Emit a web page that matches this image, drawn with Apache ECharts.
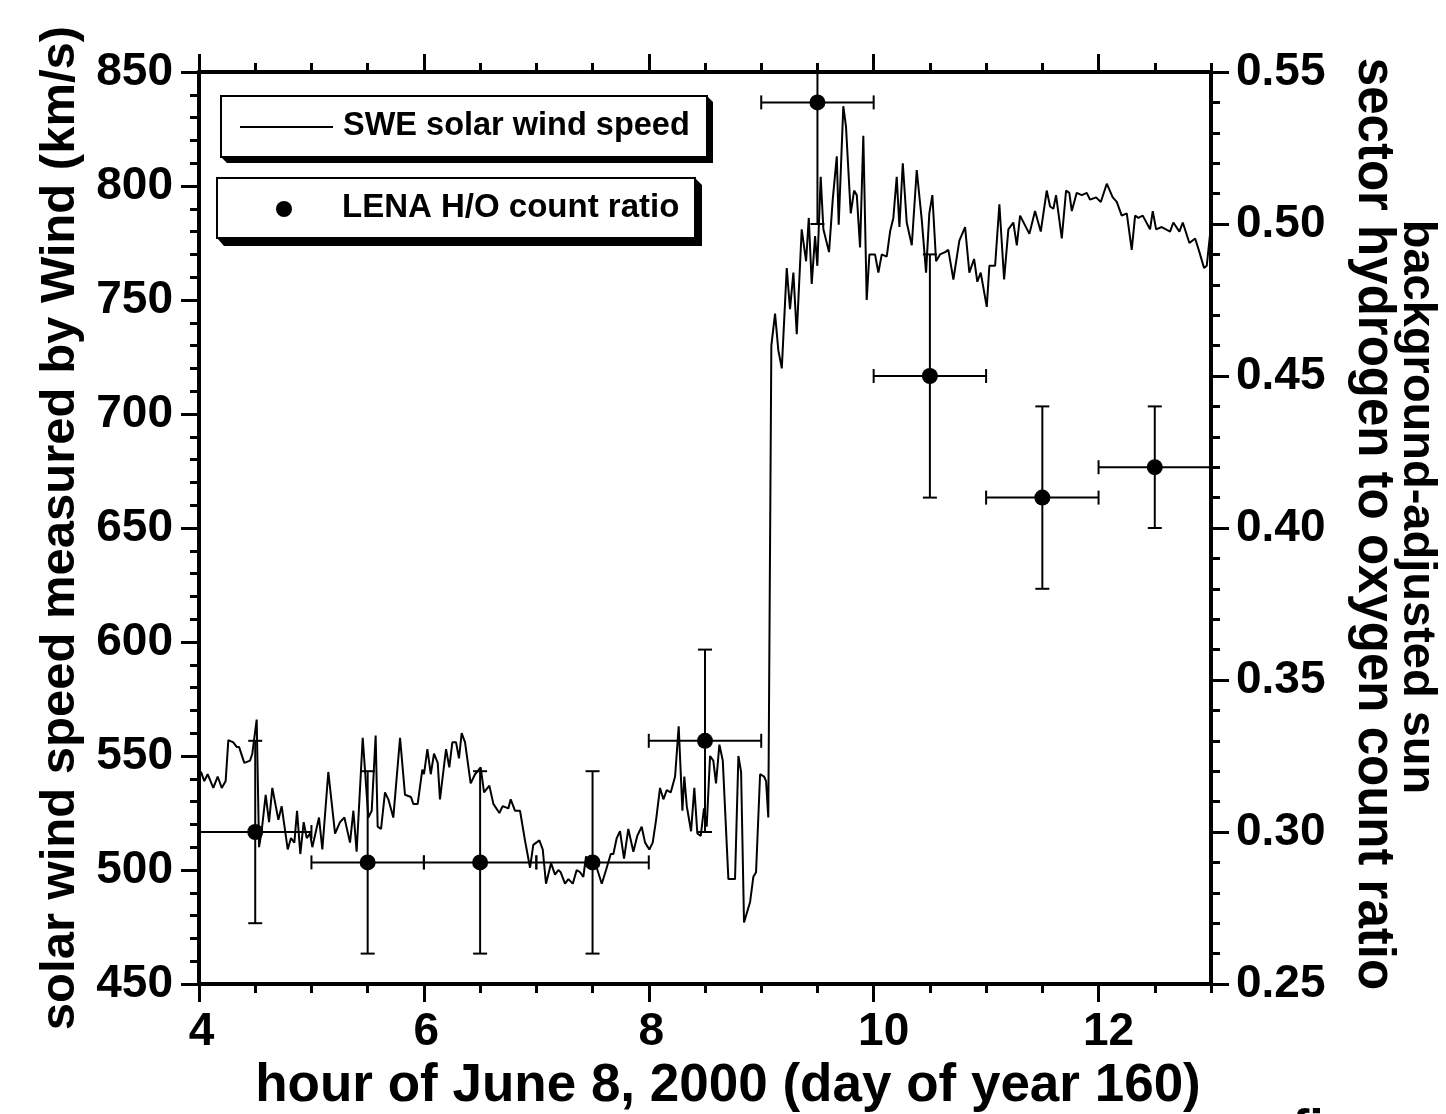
<!DOCTYPE html>
<html>
<head>
<meta charset="utf-8">
<script src="https://cdn.jsdelivr.net/npm/echarts@6/dist/echarts.min.js"></script>
<style>
html,body{margin:0;padding:0;background:#fff;}
#chart{width:1446px;height:1114px;}
</style>
</head>
<body>
<div id="chart"></div>
<script>
// ---- SWE solar wind speed (hour, km/s) ----
const sweHour = [
4.0,4.018,4.047,4.077,4.127,4.166,4.202,4.237,4.261,4.305,4.335,4.356,4.403,4.454,4.474,4.513,4.534,4.557,4.593,4.623,
4.652,4.706,4.735,4.789,4.818,4.848,4.872,4.901,4.931,4.958,4.987,5.008,5.067,5.097,5.150,5.210,5.254,5.293,5.343,5.373,
5.402,5.456,5.506,5.536,5.571,5.589,5.619,5.654,5.684,5.728,5.788,5.832,5.885,5.906,5.945,5.986,
6.001,6.031,6.061,6.090,6.123,6.143,6.197,6.226,6.253,6.286,6.312,6.336,6.366,6.416,6.455,6.505,6.535,6.582,6.618,6.671,
6.701,6.751,6.772,6.810,6.855,6.899,6.944,6.973,7.027,7.057,7.086,7.131,7.166,7.196,7.217,7.255,7.285,7.324,7.359,7.389,
7.418,7.442,7.471,7.507,7.537,7.582,7.620,7.662,7.685,7.715,7.744,7.780,7.818,7.863,7.898,7.937,7.967,8.005,
8.035,8.065,8.100,8.130,8.160,8.195,8.234,8.266,8.299,8.316,8.338,8.376,8.405,8.432,8.462,8.491,8.515,8.545,8.574,8.598,
8.628,8.658,8.708,8.738,8.767,8.797,8.821,8.847,8.901,8.930,8.954,8.990,9.025,9.043,9.063,9.090,
9.123,9.152,9.183,9.227,9.256,9.286,9.316,9.360,9.399,9.423,9.449,9.479,9.499,9.529,9.553,9.603,9.636,9.672,9.689,9.730,
9.754,9.796,9.826,9.850,9.879,9.908,9.938,9.962,10.012,10.042,10.072,10.116,10.146,10.175,10.205,10.229,10.259,10.294,10.339,10.383,
10.428,10.466,10.495,10.522,10.555,10.590,10.635,10.664,10.709,10.762,10.813,10.851,10.893,10.922,10.952,
11.006,11.029,11.080,11.118,11.160,11.198,11.242,11.273,11.302,11.385,11.435,11.486,11.539,11.569,11.598,11.622,11.673,11.711,11.740,11.762,
11.806,11.851,11.895,11.924,11.978,12.020,12.073,12.126,12.162,12.206,12.251,12.295,12.325,12.354,12.393,12.458,12.482,12.512,12.562,12.636,
12.665,12.719,12.749,12.808,12.859,12.897,12.938,12.962,12.992
];
const sweSpeed = [
541,543,539,542,536,541,536,539,557,556,554,554,547,548,551,566,510,517,533,521,
536,522,528,509,514,512,526,507,521,514,516,510,523,509,543,516,521,523,512,526,
508,558,523,526,559,519,518,534,531,523,558,533,532,529,529,544,
542,553,542,551,547,531,553,545,556,556,549,560,556,538,542,545,534,537,529,525,
528,527,531,526,526,513,501,511,513,509,494,503,498,500,499,494,496,494,500,499,
497,506,502,503,501,494,500,507,507,514,517,505,518,508,515,519,512,509,
512,522,536,531,535,534,541,563,526,541,528,517,536,516,515,527,519,550,548,538,
555,548,496,496,496,550,543,477,486,497,499,542,541,539,523,730,
744,728,720,764,746,762,735,781,767,786,757,778,765,804,781,771,794,813,783,835,
826,788,798,796,773,822,750,770,770,762,770,769,780,786,804,782,810,784,774,807,
785,762,788,796,767,770,771,772,759,776,782,762,768,758,762,
747,765,765,792,759,781,784,774,787,779,789,780,798,791,790,796,777,798,797,789,
797,796,797,794,795,793,801,795,793,787,788,772,787,786,787,781,789,781,782,780,
784,780,784,775,777,771,764,765,779
];

// ---- LENA H/O count ratio ----
const lenaHour = [4.5, 5.5, 6.5, 7.5, 8.5, 9.5, 10.5, 11.5, 12.5];
const lenaRatio = [0.30, 0.29, 0.29, 0.29, 0.33, 0.54, 0.45, 0.41, 0.42];
const lenaRatioErr = [0.03, 0.03, 0.03, 0.03, 0.03, 0.04, 0.04, 0.03, 0.02];
const lenaHourErr = [0.5, 0.5, 0.5, 0.5, 0.5, 0.5, 0.5, 0.5, 0.5];

// ---- tick values / labels ----
const hourMajorTicks = [4, 6, 8, 10, 12];
const hourMinorTicks = [4, 4.5, 5, 5.5, 6, 6.5, 7, 7.5, 8, 8.5, 9, 9.5, 10, 10.5, 11, 11.5, 12, 12.5, 13];

const legendLabels = ['SWE solar wind speed', 'LENA H/O count ratio'];
const xTitle = 'hour of June 8, 2000 (day of year 160)';
const yLeftTitle = 'solar wind speed measured by Wind (km/s)';
const yRightTitleLines = ['background-adjusted sun', 'sector hydrogen to oxygen count ratio'];
const captionText = 'figure 1';

const FONT = '"Liberation Sans", Arial, Helvetica, sans-serif';

const lineData = sweHour.map((h, i) => [h, sweSpeed[i]]);
const lenaData = lenaHour.map((h, i) => [
  h, lenaRatio[i],
  h - lenaHourErr[i], h + lenaHourErr[i],
  lenaRatio[i] - lenaRatioErr[i], lenaRatio[i] + lenaRatioErr[i]
]);

const chart = echarts.init(document.getElementById('chart'), null, {renderer: 'canvas'});

const grid = {left: 199, top: 72, width: 1012, height: 912, containLabel: false, outerBoundsMode: 'none'};
const axisLineStyle = {color: '#000', width: 4};
const labelFont = {fontSize: 46, fontWeight: 'bold', fontFamily: FONT, color: '#000'};

function hourAxis(position, long, withLabels) {
  return {
    type: 'value', min: 4, max: 13, interval: long ? 2 : 0.5,
    position: position,
    axisLine: {show: true, onZero: false, lineStyle: axisLineStyle},
    axisTick: {show: true, inside: false, length: long ? 18 : 9,
      customValues: long ? hourMajorTicks : hourMinorTicks,
      lineStyle: {color: '#000', width: 3}},
    axisLabel: withLabels ? Object.assign({
      show: true, customValues: hourMajorTicks, margin: 25,
      formatter: v => (String(v).length > 1 ? '{w|' + v + '}' : '{n|' + v + '}'),
      rich: {
        n: Object.assign({padding: [0, 0, 0, 5]}, labelFont),
        w: Object.assign({padding: [0, 0, 0, 20]}, labelFont)
      }
    }, labelFont) : {show: false},
    splitLine: {show: false}
  };
}

const xAxes = [
  hourAxis('bottom', false, true),
  hourAxis('bottom', true, false),
  hourAxis('top', false, false),
  hourAxis('top', true, false)
];
xAxes[0].name = xTitle;
xAxes[0].nameLocation = 'middle';
xAxes[0].nameGap = 76;
xAxes[0].nameTextStyle = {fontSize: 53, fontWeight: 'bold', fontFamily: FONT, color: '#000', padding: [0, 0, 0, 46]};

const option = {
  animation: false,
  backgroundColor: '#fff',
  grid: grid,
  xAxis: xAxes,
  yAxis: [
    {
      type: 'value', min: 450, max: 850, interval: 50, position: 'left',
      axisLine: {show: true, onZero: false, lineStyle: axisLineStyle},
      axisTick: {show: true, length: 18, lineStyle: {color: '#000', width: 3}},
      minorTick: {show: true, splitNumber: 5, length: 9, lineStyle: {color: '#000', width: 3}},
      axisLabel: Object.assign({margin: 26}, labelFont),
      splitLine: {show: false},
      name: yLeftTitle, nameLocation: 'middle', nameRotate: 90, nameGap: 114,
      nameTextStyle: {fontSize: 49, fontWeight: 'bold', fontFamily: FONT, color: '#000'}
    },
    {
      type: 'value', min: 0.25, max: 0.55, interval: 0.05, position: 'right',
      axisLine: {show: true, onZero: false, lineStyle: axisLineStyle},
      axisTick: {show: true, length: 18, lineStyle: {color: '#000', width: 3}},
      minorTick: {show: true, splitNumber: 5, length: 9, lineStyle: {color: '#000', width: 3}},
      axisLabel: Object.assign({margin: 25, formatter: v => v.toFixed(2)}, labelFont),
      splitLine: {show: false}
    }
  ],
  series: [
    {
      name: legendLabels[0], type: 'line', xAxisIndex: 0, yAxisIndex: 0,
      data: lineData, showSymbol: false, symbol: 'none',
      lineStyle: {color: '#000', width: 2}, z: 2
    },
    {
      name: legendLabels[1], type: 'custom', xAxisIndex: 0, yAxisIndex: 1,
      data: lenaData, clip: true, z: 3,
      renderItem: function (params, api) {
        const x = api.value(0), y = api.value(1);
        const c = api.coord([x, y]);
        const l = api.coord([api.value(2), y]);
        const r = api.coord([api.value(3), y]);
        const lo = api.coord([x, api.value(4)]);
        const hi = api.coord([x, api.value(5)]);
        const cap = 7;
        const st = {stroke: '#000', lineWidth: 2};
        return {
          type: 'group',
          children: [
            {type: 'line', shape: {x1: l[0], y1: l[1], x2: r[0], y2: r[1]}, style: st},
            {type: 'line', shape: {x1: l[0], y1: l[1] - cap, x2: l[0], y2: l[1] + cap}, style: st},
            {type: 'line', shape: {x1: r[0], y1: r[1] - cap, x2: r[0], y2: r[1] + cap}, style: st},
            {type: 'line', shape: {x1: lo[0], y1: lo[1], x2: hi[0], y2: hi[1]}, style: st},
            {type: 'line', shape: {x1: lo[0] - cap, y1: lo[1], x2: lo[0] + cap, y2: lo[1]}, style: st},
            {type: 'line', shape: {x1: hi[0] - cap, y1: hi[1], x2: hi[0] + cap, y2: hi[1]}, style: st},
            {type: 'circle', shape: {cx: c[0], cy: c[1], r: 8}, style: {fill: '#000'}}
          ]
        };
      }
    }
  ],
  graphic: [
    // right axis title (two lines, rotated clockwise)
    {type: 'text', x: 1417, y: 507, rotation: -Math.PI / 2,
      style: {text: yRightTitleLines[0], font: 'bold 47px ' + FONT, fill: '#000', textAlign: 'center', textVerticalAlign: 'middle'}, z: 12},
    {type: 'text', x: 1373, y: 524, rotation: -Math.PI / 2,
      style: {text: yRightTitleLines[1], font: 'bold 51px ' + FONT, fill: '#000', textAlign: 'center', textVerticalAlign: 'middle'}, z: 12},
    // legend box 1
    {type: 'polygon', shape: {points: [[221, 157], [227, 163], [713, 163], [713, 102], [707, 96]]}, style: {fill: '#000'}, z: 10},
    {type: 'rect', shape: {x: 221, y: 96, width: 486, height: 61}, style: {fill: '#fff', stroke: '#000', lineWidth: 2}, z: 11},
    {type: 'line', shape: {x1: 240, y1: 127, x2: 333, y2: 127}, style: {stroke: '#000', lineWidth: 2}, z: 12},
    {type: 'text', x: 343, y: 126, style: {text: legendLabels[0], font: 'bold 32.5px ' + FONT, fill: '#000', textAlign: 'left', textVerticalAlign: 'middle'}, z: 12},
    // legend box 2
    {type: 'polygon', shape: {points: [[217, 238], [224, 246], [702, 246], [702, 185], [695, 178]]}, style: {fill: '#000'}, z: 10},
    {type: 'rect', shape: {x: 217, y: 178, width: 478, height: 60}, style: {fill: '#fff', stroke: '#000', lineWidth: 2}, z: 11},
    {type: 'circle', shape: {cx: 284, cy: 209, r: 8}, style: {fill: '#000'}, z: 12},
    {type: 'text', x: 342, y: 208, style: {text: legendLabels[1], font: 'bold 33px ' + FONT, fill: '#000', textAlign: 'left', textVerticalAlign: 'middle'}, z: 12},
    // cut-off caption at the bottom edge
    {type: 'text', x: 1292, y: 1106, style: {text: captionText, font: 'bold 52px ' + FONT, fill: '#000', textAlign: 'left', textVerticalAlign: 'top'}, z: 12}
  ]
};

chart.setOption(option);
</script>
</body>
</html>
